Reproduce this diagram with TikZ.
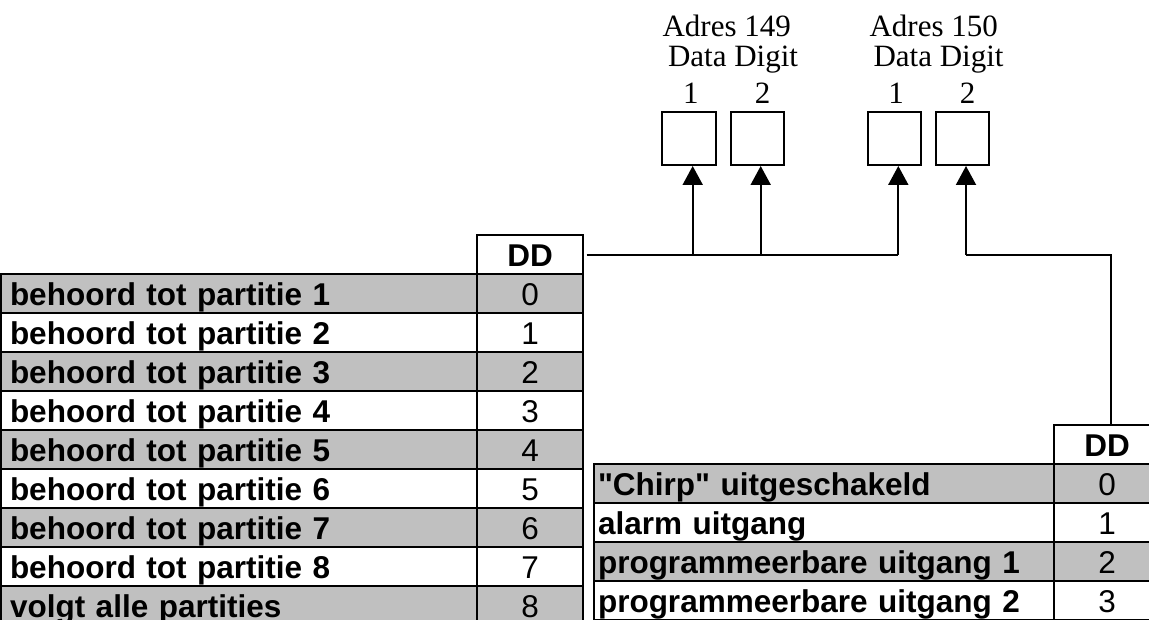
\documentclass[tikz,border=0pt]{standalone}
\usepackage{fontspec}
\setmainfont{Liberation Serif}
\setsansfont{Liberation Sans}[Ligatures=TeXOff]
\usetikzlibrary{arrows.meta}
\definecolor{cellgray}{HTML}{C0C0C0}
\tikzset{
	lbl/.style={draw, line width=2pt, minimum height=39pt, inner xsep=4pt, inner ysep=0pt, text height=22.6pt, text depth=0pt, align=left, font=\sffamily\bfseries\fontsize{31.5}{31.5}\selectfont},
	dd/.style={draw, line width=2pt, minimum width=105.7pt, minimum height=39pt, inner sep=0pt, text height=22.6pt, text depth=0pt, font=\sffamily\fontsize{31.5}{31.5}\selectfont},
	ddhead/.style={dd, font=\sffamily\bfseries\fontsize{31.5}{31.5}\selectfont},
	greyrow/.style={fill=cellgray},
	digitbox/.style={draw, line width=2pt, minimum size=53.3pt, inner sep=0pt},
	title/.style={inner sep=0pt, anchor=base, font=\fontsize{31}{31}\selectfont},
	link/.style={line width=2pt},
	tip/.style={link, -{Triangle[width=20pt,length=19pt]}},
}
\begin{document}
\begin{tikzpicture}[x=1pt,y=1pt]
		\useasboundingbox (0,0) rectangle (1149,620);

		\node[title] (a149) at (726.7,583.3) {Adres 149};
		\node[title] (dd149) at (733,553.3) {Data Digit};
		\node[title] (n1) at (690.8,516.7) {1};
		\node[title] (n2) at (762.5,516.7) {2};
		\node[title] (a150) at (933.7,583.3) {Adres 150};
		\node[title] (dd150) at (938.5,553.3) {Data Digit};
		\node[title] (n3) at (896,516.7) {1};
		\node[title] (n4) at (967.5,516.7) {2};

		\node[digitbox] (b1) at (689,481.65) {};
		\node[digitbox] (b2) at (757.3,481.65) {};
		\node[digitbox] (b3) at (894.2,481.65) {};
		\node[digitbox] (b4) at (962.7,481.65) {};

		\node[ddhead] (hd1) at (530.15,365) {DD};
		\node[lbl, greyrow, inner xsep=9pt, text width=458.3pt] (p1) at (239.15,326) {behoord tot partitie 1};
		\node[dd, greyrow] (d1) at (530.15,326) {0};
		\node[lbl, inner xsep=9pt, text width=458.3pt] (p2) at (239.15,287) {behoord tot partitie 2};
		\node[dd] (d2) at (530.15,287) {1};
		\node[lbl, greyrow, inner xsep=9pt, text width=458.3pt] (p3) at (239.15,248) {behoord tot partitie 3};
		\node[dd, greyrow] (d3) at (530.15,248) {2};
		\node[lbl, inner xsep=9pt, text width=458.3pt] (p4) at (239.15,209) {behoord tot partitie 4};
		\node[dd] (d4) at (530.15,209) {3};
		\node[lbl, greyrow, inner xsep=9pt, text width=458.3pt] (p5) at (239.15,170) {behoord tot partitie 5};
		\node[dd, greyrow] (d5) at (530.15,170) {4};
		\node[lbl, inner xsep=9pt, text width=458.3pt] (p6) at (239.15,131) {behoord tot partitie 6};
		\node[dd] (d6) at (530.15,131) {5};
		\node[lbl, greyrow, inner xsep=9pt, text width=458.3pt] (p7) at (239.15,92) {behoord tot partitie 7};
		\node[dd, greyrow] (d7) at (530.15,92) {6};
		\node[lbl, inner xsep=9pt, text width=458.3pt] (p8) at (239.15,53) {behoord tot partitie 8};
		\node[dd] (d8) at (530.15,53) {7};
		\node[lbl, greyrow, inner xsep=9pt, text width=458.3pt] (p9) at (239.15,14) {volgt alle partities};
		\node[dd, greyrow] (d9) at (530.15,14) {8};

		\node[ddhead] (hd2) at (1107.15,175) {DD};
		\node[lbl, greyrow, text width=452.3pt] (u1) at (824.15,136) {"Chirp" uitgeschakeld};
		\node[dd, greyrow] (e1) at (1107.15,136) {0};
		\node[lbl, text width=452.3pt] (u2) at (824.15,97) {alarm uitgang};
		\node[dd] (e2) at (1107.15,97) {1};
		\node[lbl, greyrow, text width=452.3pt] (u3) at (824.15,58) {programmeerbare uitgang 1};
		\node[dd, greyrow] (e3) at (1107.15,58) {2};
		\node[lbl, text width=452.3pt] (u4) at (824.15,19) {programmeerbare uitgang 2};
		\node[dd] (e4) at (1107.15,19) {3};

		\coordinate (j1) at (692.7,365);
		\coordinate (j2) at (760.7,365);
		\coordinate (j3) at (898.3,365);
		\coordinate (j4) at (966,365);
		\coordinate (k1) at (1111,365);

		\path[draw, link] (hd1.east) ++(2.7,0) -- (j3);
		\path[draw, link] (j4) -- (k1) -- (k1 |- hd2.north);
		\path[draw, tip] (j1) -- (j1 |- b1.south);
		\path[draw, tip] (j2) -- (j2 |- b2.south);
		\path[draw, tip] (j3) -- (j3 |- b3.south);
		\path[draw, tip] (j4) -- (j4 |- b4.south);
	\end{tikzpicture}
\end{document}
